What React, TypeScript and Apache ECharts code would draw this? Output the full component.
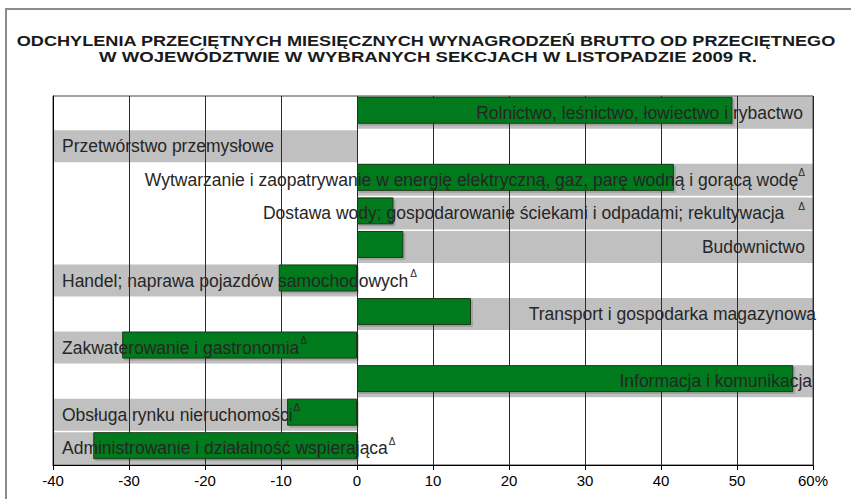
import React, { useEffect, useRef } from "react";
import * as echarts from "echarts";

const categories = [
  "Rolnictwo, leśnictwo, łowiectwo i rybactwo",
  "Przetwórstwo przemysłowe",
  "Wytwarzanie i zaopatrywanie w energię elektryczną, gaz, parę wodną i gorącą wodę",
  "Dostawa wody; gospodarowanie ściekami i odpadami; rekultywacja",
  "Budownictwo",
  "Handel; naprawa pojazdów samochodowych",
  "Transport i gospodarka magazynowa",
  "Zakwaterowanie i gastronomia",
  "Informacja i komunikacja",
  "Obsługa rynku nieruchomości",
  "Administrowanie i działalność wspierająca",
];
const values = [49.4, 0, 41.7, 4.8, 6.1, -10.3, 15.0, -30.9, 57.4, -9.2, -34.7];
const deltaMarks = [false, false, true, true, false, true, false, true, false, true, true];
const titleLines = [
  "ODCHYLENIA PRZECIĘTNYCH MIESIĘCZNYCH WYNAGRODZEŃ BRUTTO OD PRZECIĘTNEGO",
  "W WOJEWÓDZTWIE W WYBRANYCH SEKCJACH W LISTOPADZIE 2009 R.",
];
const axisMin = -40;
const axisMax = 60;
const axisInterval = 10;

const rightDistance = [10, 0, 8, 8, 8, 0, -3, 0, 1, 0, 0];
const deltaGap = [0, 0, 0, 14, 0, 2, 0, 1, 0, 1, 1];

export default function App() {
  const ref = useRef<HTMLDivElement>(null);
  useEffect(() => {
    if (!ref.current) return;
    const chart = echarts.init(ref.current, undefined, { renderer: "svg" });
    const font = '"Liberation Sans", Arial, sans-serif';
    const bandData = values.map((v) => (v > 0 ? axisMax : axisMin));
    const labelData = values.map((v, i) => {
      const pos = v > 0 ? "insideRight" : "insideLeft";
      const dist = v > 0 ? rightDistance[i] : 9;
      const txt = deltaMarks[i] ? `{a|${categories[i]}}{d${i}|Δ}` : `{a|${categories[i]}}`;
      const rich: any = {
        a: { fontSize: 17.5, fontFamily: font, color: "#262626" },
      };
      rich["d" + i] = {
        fontSize: 10,
        fontFamily: font,
        color: "#262626",
        padding: [0, 0, 14, deltaGap[i]],
      };
      return {
        value: bandData[i],
        label: {
          show: true,
          position: pos,
          distance: dist,
          formatter: txt,
          rich,
        },
      };
    });
    chart.setOption({
      animation: false,
      backgroundColor: "#ffffff",
      grid: {
        left: 53,
        right: 38,
        top: 96,
        bottom: 34,
        show: true,
        borderColor: "#444444",
        borderWidth: 1,
        backgroundColor: "transparent",
      },
      xAxis: {
        type: "value",
        min: axisMin,
        max: axisMax,
        interval: axisInterval,
        axisLine: { show: true, lineStyle: { color: "#000000", width: 1 } },
        axisTick: { show: true, length: 5, lineStyle: { color: "#000000" } },
        axisLabel: {
          color: "#000000",
          fontSize: 15,
          fontFamily: font,
          margin: 8,
          formatter: (v: number) => (v === axisMax ? `${v}%` : `${v}`),
        },
        splitLine: { show: true, lineStyle: { color: "#2a2a2a", width: 1 } },
      },
      yAxis: {
        type: "category",
        data: categories,
        inverse: true,
        axisLine: { show: true, onZero: false, lineStyle: { color: "#000000" } },
        axisTick: { show: false },
        axisLabel: { show: false },
        splitLine: { show: false },
      },
      graphic: [
        {
          type: "rect",
          shape: { x: 6, y: 9, width: 900, height: 600 },
          style: { fill: "none", stroke: "#8c8c8c", lineWidth: 2 },
          silent: true,
        },
        {
          type: "text",
          x: 426,
          y: 41,
          scaleX: 1.21,
          style: {
            text: titleLines[0],
            font: `bold 15px ${font}`,
            fill: "#1a1a1a",
            textAlign: "center",
            textVerticalAlign: "middle",
          },
        },
        {
          type: "text",
          x: 428,
          y: 57,
          scaleX: 1.24,
          style: {
            text: titleLines[1],
            font: `bold 15px ${font}`,
            fill: "#1a1a1a",
            textAlign: "center",
            textVerticalAlign: "middle",
          },
        },
      ],
      series: [
        {
          type: "bar",
          data: bandData,
          barWidth: 32,
          barGap: "-100%",
          z: -1,
          itemStyle: { color: "#c0c0c0" },
          silent: true,
        },
        {
          type: "bar",
          data: values,
          barWidth: 27,
          barGap: "-100%",
          z: 3,
          itemStyle: {
            color: "#037a1f",
            borderColor: "#173d17",
            borderWidth: 1,
            shadowColor: "rgba(0,0,0,0.15)",
            shadowOffsetX: 2,
            shadowOffsetY: 2,
            shadowBlur: 0,
          },
          silent: true,
        },
        {
          type: "bar",
          data: labelData,
          barWidth: 32,
          barGap: "-100%",
          z: 5,
          itemStyle: { color: "rgba(0,0,0,0)" },
          silent: true,
        },
      ],
    });
    return () => chart.dispose();
  }, []);
  return (
    <div
      ref={ref}
      style={{ position: "fixed", left: 0, top: 0, width: 851, height: 499 }}
    />
  );
}
